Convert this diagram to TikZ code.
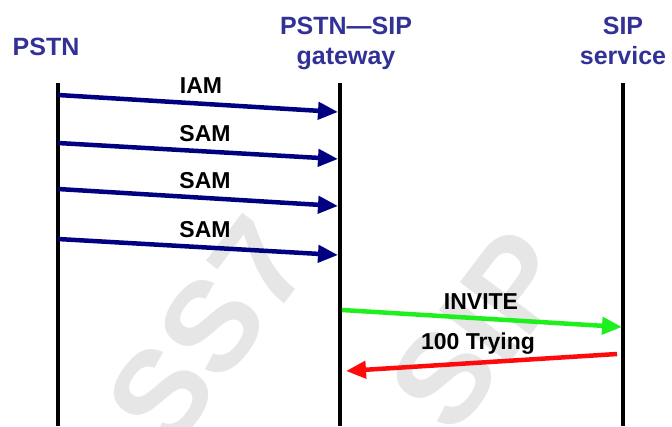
\documentclass[tikz,border=0pt]{standalone}
\usepackage{fontspec}
\setmainfont{Liberation Sans}
\usetikzlibrary{arrows.meta}
\definecolor{hdr}{RGB}{50,50,150}
\definecolor{navyarr}{RGB}{0,0,128}
\definecolor{grnarr}{RGB}{30,240,30}
\definecolor{redarr}{RGB}{255,10,10}
\definecolor{wmark}{RGB}{230,230,230}
\tikzset{
  header/.style={text=hdr, font=\fontsize{25}{30}\selectfont\bfseries, align=center, inner sep=0pt},
  msglabel/.style={text=black, font=\fontsize{23}{27}\selectfont\bfseries, inner sep=0pt, anchor=base},
  lifeline/.style={line width=4.5pt, black},
  msg/.style={line width=4.5pt, -{Triangle[length=20pt,width=17pt]}},
  watermark/.style={text=wmark, font=\fontsize{128}{128}\selectfont\bfseries, inner sep=0pt, rotate=53}
}
\begin{document}
\begin{tikzpicture}[x=1pt,y=-1pt]
\useasboundingbox (0,0) rectangle (672,426);
% watermark
\node[watermark] (wm1) at (208,332) {SS7};
\node[watermark] (wm2) at (480,330) {SIP};
% headers
\node[header, anchor=base] (hA) at (46,55) {PSTN};
\node[header, anchor=north] (hB) at (346,17) {PSTN—SIP\\gateway};
\node[header, anchor=north] (hC) at (623,17) {SIP\\service};
% lifelines
\coordinate (a0) at (58,83);  \coordinate (a1) at (58,426);
\coordinate (b0) at (340,83); \coordinate (b1) at (340,426);
\coordinate (c0) at (623,83); \coordinate (c1) at (623,426);
\draw[lifeline] (a0) -- (a1);
\draw[lifeline] (b0) -- (b1);
\draw[lifeline] (c0) -- (c1);
% message endpoints
\coordinate (m1s) at (58,95);   \coordinate (m1e) at (338,112);
\coordinate (m2s) at (58,143);  \coordinate (m2e) at (338,159);
\coordinate (m3s) at (58,189);  \coordinate (m3e) at (338,206);
\coordinate (m4s) at (58,239);  \coordinate (m4e) at (338,255);
\coordinate (m5s) at (342,310); \coordinate (m5e) at (622,327);
\coordinate (m6s) at (617,354); \coordinate (m6e) at (346,371);
\draw[msg, navyarr] (m1s) -- (m1e);
\draw[msg, navyarr] (m2s) -- (m2e);
\draw[msg, navyarr] (m3s) -- (m3e);
\draw[msg, navyarr] (m4s) -- (m4e);
\draw[msg, grnarr] (m5s) -- (m5e);
\draw[msg, redarr] (m6s) -- (m6e);
% labels
\node[msglabel] (l1) at (201,93) {IAM};
\node[msglabel] (l2) at (205,141) {SAM};
\node[msglabel] (l3) at (205,188) {SAM};
\node[msglabel] (l4) at (205,237) {SAM};
\node[msglabel] (l5) at (481,309) {INVITE};
\node[msglabel] (l6) at (478,349) {100 Trying};
\end{tikzpicture}
\end{document}
